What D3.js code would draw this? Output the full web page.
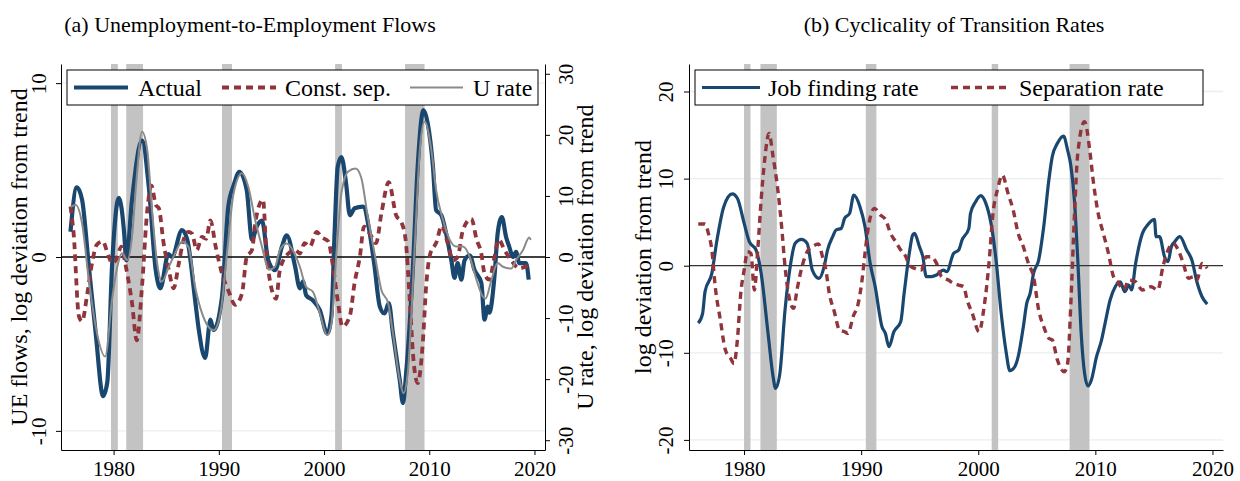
<!DOCTYPE html>
<html>
<head>
<meta charset="utf-8">
<script src="https://cdn.jsdelivr.net/npm/d3@7"></script>
<style>
  body { margin: 0; background: #fff; }
  svg { display: block; font-family: "Liberation Serif", serif; }
</style>
</head>
<body>
<script>
// ---- data (year, log deviation) ----
const ueActual = [
  [1975.9,1.45],[1976.5,4.0],[1977.0,3.3],[1977.65,-0.56],[1978.3,-4.4],[1979.0,-8.0],[1979.4,-7.2],
  [1979.85,-0.56],[1980.5,3.4],[1981.0,1.4],[1981.2,-0.2],[1981.75,3.3],[1982.7,6.7],[1983.35,4.0],
  [1984.0,-0.75],[1984.45,-1.8],[1985.2,0.17],[1985.55,0.0],[1986.5,1.55],[1987.0,1.0],[1987.75,-2.5],
  [1988.1,-4.2],[1988.7,-5.8],[1989.2,-3.6],[1989.5,-4.2],[1990.3,-2.3],[1990.9,2.9],[1991.4,4.1],
  [1991.95,4.9],[1992.65,3.85],[1993.15,1.0],[1993.6,1.75],[1994.1,2.1],[1994.7,-0.2],[1995.35,-0.75],
  [1996.0,0.6],[1996.45,1.25],[1997.25,-0.55],[1997.7,-1.8],[1998.0,-1.4],[1998.3,-2.2],[1998.95,-2.5],
  [1999.6,-3.05],[2000.3,-4.4],[2000.7,-3.4],[2001.0,1.35],[2001.3,5.2],[2001.65,5.75],[2002.1,4.2],
  [2002.45,2.4],[2002.9,2.8],[2003.7,2.9],[2004.35,1.35],[2004.8,-0.55],[2005.3,-2.85],[2005.75,-3.25],
  [2006.15,-2.65],[2006.55,-4.4],[2007.2,-7.1],[2007.5,-8.4],[2007.8,-6.7],[2008.45,-0.55],[2008.9,5.2],
  [2009.45,8.45],[2009.85,7.7],[2010.35,5.2],[2010.65,2.7],[2011.15,2.4],[2011.6,1.35],[2012.1,-0.2],
  [2012.4,-1.2],[2012.7,-0.35],[2013.05,-1.3],[2013.35,-0.2],[2013.85,0.1],[2014.3,-0.75],[2014.95,-1.5],
  [2015.25,-3.6],[2015.55,-2.85],[2015.7,-3.2],[2016.2,-1.1],[2016.5,1.35],[2016.9,2.3],[2017.3,1.15],
  [2017.6,0.6],[2017.95,0.0],[2018.25,0.3],[2018.55,-0.35],[2019.2,-0.35],[2019.45,-1.3]
];
const ueConstSep = [
  [1975.9,2.9],[1976.2,1.35],[1976.7,-3.4],[1977.0,-3.7],[1977.5,-2.1],[1977.95,-0.35],[1978.4,0.7],
  [1978.95,0.9],[1979.55,0.0],[1979.85,-0.35],[1980.2,-0.2],[1980.75,0.6],[1981.1,-0.35],[1981.75,-2.65],
  [1982.2,-4.8],[1982.7,-1.7],[1983.2,2.7],[1983.6,4.1],[1984.0,3.0],[1984.3,2.8],[1984.75,0.8],
  [1985.25,-0.75],[1985.7,-1.8],[1986.2,-0.35],[1986.65,1.0],[1987.1,1.45],[1987.45,1.35],[1987.9,0.4],
  [1988.4,1.15],[1988.8,1.05],[1989.2,2.1],[1989.7,0.6],[1990.3,-0.95],[1990.95,-2.0],[1991.55,-2.75],
  [1992.2,-2.1],[1992.65,0.0],[1993.15,0.4],[1993.5,2.1],[1994.2,3.3],[1994.55,0.0],[1995.45,-2.4],
  [1995.8,-0.75],[1996.6,0.2],[1997.25,0.4],[1997.7,0.2],[1998.15,0.8],[1998.65,0.6],[1999.3,1.45],
  [1999.75,1.15],[2000.4,0.9],[2000.85,-0.55],[2001.3,-2.5],[2001.75,-4.0],[2002.45,-3.4],[2002.9,-1.5],
  [2003.4,0.0],[2003.8,1.75],[2004.35,1.35],[2004.95,0.8],[2005.45,2.5],[2006.15,4.3],[2006.85,2.4],
  [2007.35,2.0],[2007.75,1.0],[2008.15,-2.5],[2008.45,-5.55],[2008.9,-7.25],[2009.4,-4.8],[2009.7,-1.7],
  [2010.1,0.2],[2010.65,0.8],[2011.2,1.8],[2011.75,0.8],[2012.25,-0.2],[2012.7,0.0],[2013.2,1.55],
  [2014.0,2.2],[2014.5,1.0],[2014.95,0.2],[2015.25,-0.95],[2015.7,-1.3],[2016.2,0.0],[2016.6,1.0],
  [2017.15,0.4],[2017.8,-0.2],[2018.55,-0.65],[2019.5,-0.45]
];
// unemployment rate, right axis
const uRate = [
  [1975.9,8.2],[1976.4,8.5],[1977.0,5.5],[1977.65,-3.8],[1978.3,-11.4],[1979.2,-16.3],[1979.85,-7.0],
  [1980.35,-1.6],[1980.8,0.6],[1981.3,-0.5],[1981.75,3.3],[1982.15,12.1],[1982.7,20.5],[1983.2,17.5],
  [1983.65,7.7],[1984.1,-0.5],[1984.6,-4.0],[1985.25,-1.6],[1985.85,0.6],[1986.5,2.5],[1987.1,1.7],
  [1987.75,-4.9],[1988.4,-9.2],[1989.0,-11.4],[1989.5,-12.0],[1990.15,-9.2],[1990.8,1.1],[1991.4,10.4],
  [1992.2,13.7],[1992.8,11.5],[1993.45,6.1],[1994.1,1.7],[1994.75,-2.1],[1995.35,-1.6],[1995.8,1.1],
  [1996.45,2.2],[1997.1,0.9],[1997.7,-1.6],[1998.3,-4.9],[1998.95,-5.7],[1999.6,-9.2],[2000.3,-12.8],
  [2000.7,-10.9],[2001.2,1.1],[2001.65,10.4],[2002.3,14.0],[2003.0,14.5],[2003.55,12.9],[2004.15,6.6],
  [2004.8,0.6],[2005.45,-5.4],[2006.1,-7.6],[2006.55,-12.5],[2007.2,-20.2],[2007.55,-22.3],[2007.95,-19.1],
  [2008.6,1.1],[2009.1,17.5],[2009.55,22.2],[2010.2,17.5],[2010.65,11.0],[2011.3,6.1],[2011.95,2.8],
  [2012.55,1.7],[2013.2,1.7],[2013.85,0.0],[2014.5,-3.8],[2015.1,-6.5],[2015.35,-6.8],[2015.9,-3.8],
  [2016.5,-1.0],[2017.0,-1.6],[2017.8,-1.9],[2018.25,-0.5],[2018.9,1.1],[2019.5,3.2],[2019.65,2.8]
];
const jobFinding = [
  [1976.09,-6.6],[1976.46,-5.5],[1976.67,-2.98],[1977.25,-0.88],[1977.69,2.96],[1978.27,6.78],[1979.0,8.24],
  [1979.43,7.74],[1980.01,4.86],[1980.45,2.76],[1981.03,1.8],[1981.46,-0.88],[1982.05,-7.77],[1982.48,-12.74],
  [1982.69,-14.08],[1983.06,-12.36],[1983.5,-5.09],[1983.94,-0.11],[1984.37,2.57],[1984.9,3.02],[1985.39,2.57],
  [1985.83,-0.5],[1986.41,-1.45],[1986.84,-0.11],[1987.13,1.8],[1987.57,3.33],[1987.86,4.1],[1988.3,4.29],
  [1988.59,5.44],[1989.02,6.01],[1989.37,8.12],[1989.9,6.78],[1990.33,4.48],[1990.77,0.27],[1991.2,-2.41],
  [1991.78,-7.0],[1992.07,-7.77],[1992.37,-9.3],[1992.8,-7.58],[1993.38,-6.43],[1993.67,-3.18],[1994.11,1.41],
  [1994.4,3.52],[1994.55,3.71],[1994.98,2.18],[1995.27,1.03],[1995.56,-1.26],[1996.0,-1.26],[1996.44,-1.07],
  [1997.02,-0.5],[1997.31,-0.69],[1997.89,1.41],[1998.33,1.8],[1998.62,2.96],[1999.2,4.29],[1999.34,6.01],
  [1999.78,7.35],[2000.21,8.04],[2000.65,7.16],[2001.09,4.86],[2001.52,0.65],[2001.96,-5.47],[2002.4,-10.07],
  [2002.69,-12.06],[2003.12,-11.6],[2003.41,-10.45],[2003.85,-7.0],[2004.14,-4.33],[2004.43,-3.18],
  [2004.72,-0.88],[2005.16,0.65],[2005.59,4.48],[2006.03,9.84],[2006.32,12.52],[2006.76,14.05],[2007.28,14.89],
  [2007.63,13.28],[2007.92,11.37],[2008.21,7.54],[2008.5,0.65],[2008.79,-7.77],[2009.08,-12.36],[2009.37,-13.81],
  [2009.66,-13.12],[2010.1,-10.45],[2010.53,-8.53],[2010.83,-6.62],[2011.26,-3.94],[2011.7,-2.41],[2012.13,-1.84],
  [2012.51,-2.98],[2012.86,-2.22],[2013.09,-2.79],[2013.44,0.27],[2014.02,3.71],[2014.46,4.67],[2015.04,5.32],
  [2015.19,3.33],[2015.48,3.33],[2015.91,1.03],[2016.2,0.46],[2016.49,2.18],[2016.78,2.76],[2017.22,3.33],
  [2017.8,1.8],[2018.24,0.65],[2018.67,-1.84],[2019.11,-3.56],[2019.55,-4.4]
];
const sepRate = [
  [1976.09,4.79],[1976.67,4.79],[1976.96,3.69],[1977.25,1.8],[1977.54,-2.41],[1977.98,-6.24],[1978.41,-9.69],
  [1978.85,-10.64],[1979.14,-11.22],[1979.43,-8.53],[1979.72,-3.18],[1980.01,-0.5],[1980.3,1.61],[1980.59,1.41],
  [1980.88,-2.79],[1981.17,1.8],[1981.46,7.54],[1981.76,12.13],[1982.13,15.2],[1982.48,12.52],[1982.92,8.31],
  [1983.21,4.48],[1983.5,-0.11],[1983.79,-3.18],[1984.23,-4.9],[1984.52,-2.79],[1984.95,-0.11],[1985.39,1.61],
  [1985.83,2.18],[1986.35,2.49],[1986.7,1.03],[1986.99,-0.5],[1987.28,-3.18],[1987.71,-5.28],[1988.15,-7.39],
  [1988.59,-7.58],[1988.88,-7.77],[1989.31,-5.86],[1989.75,-4.33],[1990.04,-2.03],[1990.33,1.41],[1990.62,4.48],
  [1991.14,6.58],[1991.64,5.82],[1992.07,5.32],[1992.51,3.71],[1992.95,2.76],[1993.38,1.8],[1993.82,1.03],
  [1994.11,0.08],[1994.55,-0.3],[1995.13,-0.5],[1995.56,1.03],[1996.0,1.03],[1996.44,0.27],[1996.87,-1.26],
  [1997.45,-1.65],[1997.89,-2.03],[1998.33,-2.22],[1998.76,-2.41],[1999.05,-3.94],[1999.49,-5.47],[2000.07,-7.58],
  [2000.5,-4.71],[2000.94,0.65],[2001.23,5.63],[2001.67,8.88],[2002.05,10.41],[2002.54,8.31],[2002.98,6.4],
  [2003.41,3.71],[2003.85,2.18],[2004.28,0.27],[2004.72,-1.26],[2005.16,-5.09],[2005.59,-7.0],[2006.03,-8.34],
  [2006.32,-8.53],[2006.76,-10.83],[2007.34,-12.17],[2007.63,-11.22],[2007.92,-3.94],[2008.21,5.63],[2008.5,12.9],
  [2009.08,16.53],[2009.52,13.28],[2009.81,9.84],[2010.24,6.01],[2010.68,3.71],[2011.12,1.41],[2011.55,-1.26],
  [2011.99,-2.03],[2012.42,-2.79],[2012.86,-1.65],[2013.44,-1.84],[2014.02,-2.79],[2014.75,-2.41],[2015.33,-2.79],
  [2015.77,-0.11],[2016.35,2.18],[2016.64,2.57],[2017.08,1.8],[2017.51,0.27],[2017.95,-1.45],[2018.38,-1.26],
  [2018.67,-1.65],[2019.11,0.27],[2019.55,-0.3]
];
// shaded recessions (start, end) as drawn in each panel
const recessionsA = [[1979.75,1980.4],[1981.2,1982.8],[1990.3,1991.25],[2001.05,2001.7],[2007.7,2009.55]];
const recessionsB = [[1980.0,1980.55],[1981.4,1982.8],[1990.4,1991.3],[2001.15,2001.7],[2007.8,2009.5]];

const yearTicks = [1980, 1990, 2000, 2010, 2020];
const leftTicksA = [-10, 0, 10];
const rightTicksA = [-30, -20, -10, 0, 10, 20, 30];
const ticksB = [-20, -10, 0, 10, 20];

const navy = "#1a476f", maroon = "#90353b", grey = "#8a8a8a";
const shade = "#c3c3c3", grid = "#e8eff0";

const svg = d3.select("body").append("svg")
  .attr("width", 1240)
  .attr("height", 481)
  .style("background", "#fff");

const plotTop = 64, plotBottom = 450;
const fmt = d => String(d);

function lineGen(x, y) {
  return d3.line().x(d => x(d[0])).y(d => y(d[1])).curve(d3.curveMonotoneX);
}

function yAxisText(g, dx) {
  g.selectAll(".tick text")
    .attr("x", null).attr("dy", null)
    .attr("text-anchor", "middle")
    .attr("transform", `translate(${dx},0) rotate(-90)`);
}

function styleAxis(g) {
  g.attr("font-family", "Liberation Serif").attr("font-size", 21);
  g.selectAll("text").attr("fill", "#000");
  g.selectAll("line, path").attr("stroke", "#000");
}

function drawPanel(p) {
  const g = svg.append("g");
  const x = d3.scaleLinear().domain(p.xDomain).range([p.left, p.right]);
  const y = d3.scaleLinear().domain(p.yDomain).range([plotBottom, plotTop]);

  // gridlines
  g.selectAll("line.grid").data(p.gridTicks).join("line")
    .attr("x1", p.left).attr("x2", p.right)
    .attr("y1", d => y(d)).attr("y2", d => y(d))
    .attr("stroke", grid).attr("stroke-width", 1.3);

  // recession bands
  g.selectAll("rect.rec").data(p.recessions).join("rect")
    .attr("x", d => x(d[0])).attr("width", d => x(d[1]) - x(d[0]))
    .attr("y", plotTop).attr("height", plotBottom - plotTop)
    .attr("fill", shade);

  // zero line
  g.append("line")
    .attr("x1", p.left).attr("x2", p.right)
    .attr("y1", y(0)).attr("y2", y(0))
    .attr("stroke", p.zeroColor).attr("stroke-width", 1.3);

  // series
  p.series.forEach(s => {
    const ys = s.right ? p.yRight : y;
    g.append("path")
      .datum(s.data)
      .attr("fill", "none")
      .attr("stroke", s.color)
      .attr("stroke-width", s.width)
      .attr("stroke-dasharray", s.dash || null)
      .attr("stroke-linejoin", "round")
      .attr("d", lineGen(x, ys));
  });

  // x axis
  g.append("g")
    .attr("transform", `translate(0,${plotBottom})`)
    .call(d3.axisBottom(x).tickValues(yearTicks).tickFormat(fmt).tickSize(5).tickSizeOuter(0))
    .call(styleAxis)
    .call(a => a.selectAll(".tick text").attr("y", 26).attr("dy", null));

  // left y axis
  g.append("g")
    .attr("transform", `translate(${p.left},0)`)
    .call(d3.axisLeft(y).tickValues(p.leftTicks).tickFormat(fmt).tickSize(5).tickSizeOuter(0))
    .call(styleAxis)
    .call(a => yAxisText(a, p.leftLabelDx));

  g.append("text")
    .attr("transform", `translate(${p.yTitleX},${(plotTop + plotBottom) / 2}) rotate(-90)`)
    .attr("text-anchor", "middle")
    .attr("font-size", 24)
    .text(p.yTitle);

  if (p.yRight) {
    g.append("g")
      .attr("transform", `translate(${p.right},0)`)
      .call(d3.axisRight(p.yRight).tickValues(rightTicksA).tickFormat(fmt).tickSize(5).tickSizeOuter(0))
      .call(styleAxis)
      .call(a => yAxisText(a, 28));
    g.append("text")
      .attr("transform", `translate(${p.yRightTitleX},${(plotTop + plotBottom) / 2}) rotate(-90)`)
      .attr("text-anchor", "middle")
      .attr("font-size", 24)
      .text(p.yRightTitle);
  }

  // title
  g.append("text")
    .attr("x", p.titleX).attr("y", 32)
    .attr("text-anchor", "middle")
    .attr("font-size", 22)
    .text(p.title);

  // legend
  const lg = g.append("g");
  lg.append("rect")
    .attr("x", p.legend.x0).attr("y", 70)
    .attr("width", p.legend.x1 - p.legend.x0).attr("height", 35)
    .attr("fill", "#fff").attr("stroke", "#000").attr("stroke-width", 1);
  p.series.forEach((s, i) => {
    const lx = p.legend.items[i];
    lg.append("line")
      .attr("x1", lx[0]).attr("x2", lx[1])
      .attr("y1", 87.5).attr("y2", 87.5)
      .attr("stroke", s.color).attr("stroke-width", s.width)
      .attr("stroke-dasharray", s.dash || null);
    lg.append("text")
      .attr("x", lx[2]).attr("y", 96)
      .attr("font-size", 24)
      .text(s.label);
  });
}

// (a)
drawPanel({
  left: 61, right: 545,
  xDomain: [1975, 2021],
  yDomain: [-11.1, 11.1],
  yRight: d3.scaleLinear().domain([-31.6, 31.6]).range([plotBottom, plotTop]),
  gridTicks: [-10, 10],
  recessions: recessionsA,
  zeroColor: "#000",
  leftTicks: leftTicksA,
  leftLabelDx: -15,
  yTitle: "UE flows, log deviation from trend",
  yTitleX: 27,
  yRightTitle: "U rate, log deviation from trend",
  yRightTitleX: 593,
  title: "(a) Unemployment-to-Employment Flows",
  titleX: 250,
  series: [
    { data: ueActual, color: navy, width: 4.2, label: "Actual" },
    { data: ueConstSep, color: maroon, width: 3.8, dash: "7,5", label: "Const. sep." },
    { data: uRate, color: grey, width: 2, right: true, label: "U rate" }
  ],
  legend: { x0: 67, x1: 538, items: [[74, 128, 138], [222, 276, 285], [410, 463, 473]] }
});

// (b)
drawPanel({
  left: 689, right: 1223,
  xDomain: [1975.3, 2020.9],
  yDomain: [-21.16, 23.16],
  gridTicks: [-20, -10, 10, 20],
  recessions: recessionsB,
  zeroColor: "#333",
  leftTicks: ticksB,
  leftLabelDx: -16,
  yTitle: "log deviation from trend",
  yTitleX: 651,
  title: "(b) Cyclicality of Transition Rates",
  titleX: 954,
  series: [
    { data: jobFinding, color: navy, width: 3.2, label: "Job finding rate" },
    { data: sepRate, color: maroon, width: 3.4, dash: "7,5", label: "Separation rate" }
  ],
  legend: { x0: 695, x1: 1203, items: [[702, 760, 768], [951, 1009, 1019]] }
});
</script>
</body>
</html>
